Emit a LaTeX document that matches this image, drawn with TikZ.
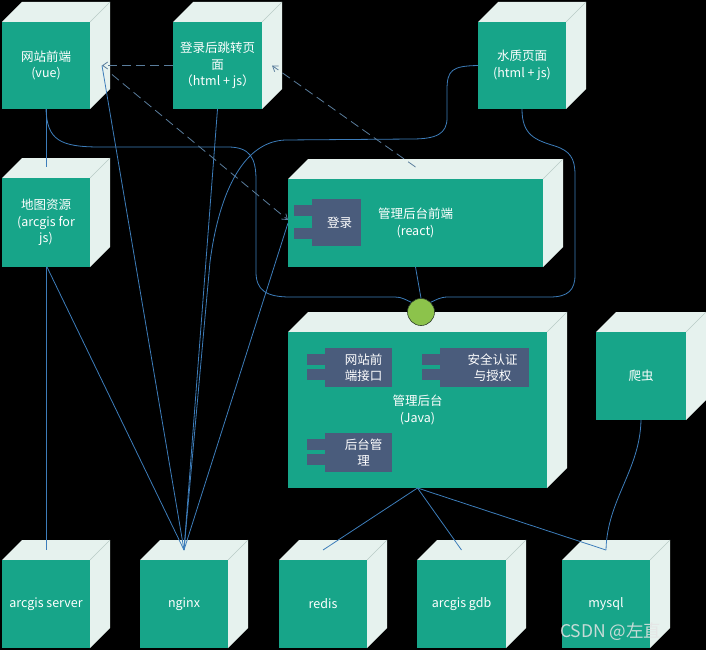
\documentclass[tikz,border=0pt]{standalone}
\usepackage{fontspec}
\setmainfont{Noto Sans CJK SC}
\usetikzlibrary{arrows.meta,calc}
\definecolor{teal1}{HTML}{17A589}
\definecolor{facec}{HTML}{E6F2EE}
\definecolor{edgec}{HTML}{B8CCC6}
\definecolor{compc}{HTML}{4A5C7C}
\definecolor{wirec}{HTML}{3D7DBA}
\definecolor{dwirec}{HTML}{5A7D9C}
\definecolor{ifcc}{HTML}{8CC34B}
\definecolor{ifcline}{HTML}{2E402A}
\newcommand\mycube[6]{%
  \fill[facec] (#2,#3) -- ({#2+20},{#3-20}) -- ({#2+#4+20},{#3-20}) -- ({#2+#4+20},{#3+#5-20}) -- ({#2+#4},{#3+#5}) -- cycle;
  \draw[edgec,line width=0.5pt] ({#2+#4},{#3}) -- ({#2+#4+20},{#3-20});
  \node[front, minimum width=#4, minimum height=#5, anchor=north west] (#1) at (#2,#3) {#6};
}
\newcommand\mycomp[6]{%
  \fill[compc] ({#2-18},{#3+6}) rectangle (#2,{#3+17});
  \fill[compc] ({#2-18},{#3+#5-18}) rectangle (#2,{#3+#5-7});
  \node[compbox, minimum width=#4, minimum height=#5, anchor=north west] (#1) at (#2,#3) {};
  \node[comptext] (#1t) at ([xshift=#6pt]#1.center) {\csname cmptxt#1\endcsname};
}
\newcommand\cmptxtlogin{登录}
\newcommand\cmptxtapiw{网站前\\端接口}
\newcommand\cmptxtauth{安全认证\\与授权}
\newcommand\cmptxtmgmt{后台管\\理}
\begin{document}
\begin{tikzpicture}[x=1pt,y=-1pt,
  front/.style={fill=teal1,text=white,inner sep=0pt,outer sep=0pt,align=center,font=\fontsize{12.5}{16.5}\selectfont},
  compbox/.style={fill=compc,inner sep=0pt,outer sep=0pt},
  comptext/.style={text=white,inner sep=0pt,align=center,font=\fontsize{12.5}{16.5}\selectfont},
  wire/.style={draw=wirec,line width=0.8pt},
  dwire/.style={draw=dwirec,line width=0.8pt,dash pattern=on 9pt off 5pt,-{Straight Barb[length=5pt,width=7pt]}},
]
\fill[black] (0,0) rectangle (706,650);
\useasboundingbox (0,0) rectangle (706,650);

\mycube{web}{2}{22}{88}{87}{网站前端\\(vue)}
\mycube{jump}{173}{22}{89}{87}{登录后跳转页\\面\\（html + js）}
\mycube{water}{478}{22}{88}{87}{水质页面\\(html + js)}
\mycube{map}{2}{178}{88}{89}{地图资源\\(arcgis for\\js)}
\mycube{admfe}{288}{179}{255}{88}{管理后台前端\\(react)}
\mycube{adm}{288}{332}{259}{156}{管理后台\\(Java)}
\mycube{crawler}{596}{332}{90}{88}{爬虫}
\mycube{ags}{2}{560}{88}{88}{arcgis server}
\mycube{nginx}{140}{560}{88}{88}{nginx}
\mycube{redis}{279}{560}{88}{88}{redis}
\mycube{gdb}{417}{560}{89}{88}{arcgis gdb}
\mycube{mysql}{562}{560}{88}{88}{mysql}

\mycomp{login}{312}{199}{49}{47}{3}
\mycomp{apiw}{325}{348}{67}{39}{5}
\mycomp{auth}{440}{348}{89}{39}{8}
\mycomp{mgmt}{325}{433}{67}{39}{5}

\node[circle, fill=ifcc, draw=ifcline, line width=0.6pt, minimum size=27pt, inner sep=0pt] (iface) at (421,312) {};

\coordinate (nx) at ([yshift=10pt]nginx.north);

% solid connectors
\draw[wire] (web.south) -- ([yshift=11pt]map.north);
\draw[wire] (map.south) -- ([yshift=10pt]ags.north);
\draw[wire] ([xshift=1pt]map.south) -- (nx);
\draw[wire] ([xshift=12pt]web.east) -- (nx);
\draw[wire] (jump.south) -- (nx);
\draw[wire] (admfe.west) -- (nx);
\draw[wire] (water.west) .. controls (452,66) and (447,70) .. (447,90) -- (447,118) .. controls (447,134) and (436,139) .. (412,139) -- (285,140) .. controls (240,142) and (218,200) .. (210,262) -- (nx);
\draw[wire] (web.south) .. controls (47,140) and (60,147) .. (100,147) -- (228,147) .. controls (250,147) and (256,158) .. (256,180) -- (256,272) .. controls (256,290) and (266,297) .. (290,297) -- (395,297) .. controls (402,297) and (406,300) .. (iface.135);
\draw[wire] (water.south) .. controls (522,135) and (535,140) .. (555,146) .. controls (570,151) and (575,158) .. (575,175) -- (575,275) .. controls (575,290) and (568,297) .. (550,297) -- (448,297) .. controls (440,297) and (436,300) .. (iface.45);
\draw[wire] (admfe.south) -- (iface.north);
\draw[wire] (adm.south) -- ([yshift=10pt]redis.north);
\draw[wire] (adm.south) -- ([yshift=10pt]gdb.north);
\draw[wire] (adm.south) -- ([yshift=10pt]mysql.north);
\draw[wire] (crawler.south) .. controls (640,470) and (607,500) .. ([yshift=10pt]mysql.north);

% dashed dependencies
\draw[dwire] (jump.west) -- ([xshift=12pt]web.east);
\draw[dwire] ([xshift=22pt,yshift=-9pt]web.east) -- ([yshift=3pt]admfe.west);
\draw[dwire] ([yshift=12pt]admfe.north) -- ([xshift=10pt]jump.east);

% watermark
\begin{scope}
\clip (561,605) rectangle (672,650);
\node[text=white!80!gray, opacity=0.85, font=\fontsize{17.5}{20}\selectfont, anchor=west, inner sep=0pt] (wm) at (560,632) {CSDN @左直};
\end{scope}
\end{tikzpicture}
\end{document}
